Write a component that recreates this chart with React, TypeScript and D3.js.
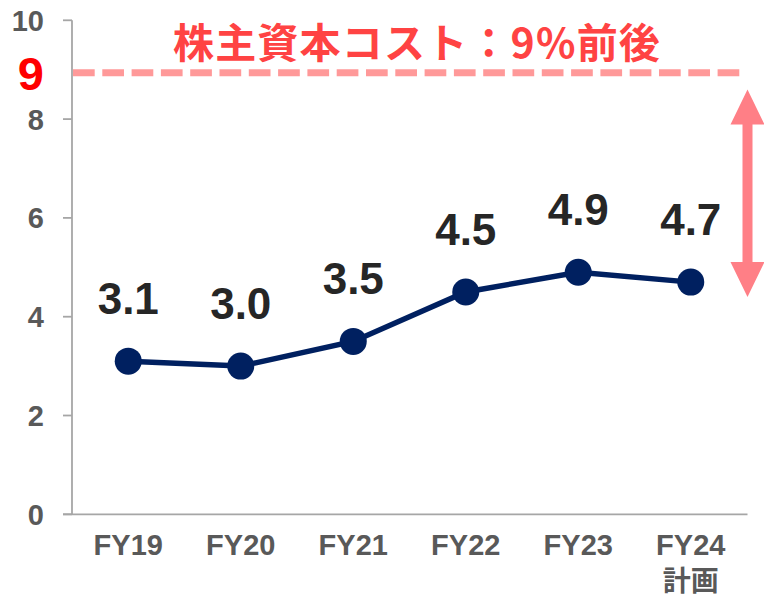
import React from "react";
import * as d3 from "d3";

const categories = ["FY19", "FY20", "FY21", "FY22", "FY23", "FY24"];
const subLabels = ["", "", "", "", "", "計画"];
const values = [3.1, 3.0, 3.5, 4.5, 4.9, 4.7];
const yTicks = [0, 2, 4, 6, 8, 10];
const costOfEquity = 9;
const costLineValue = 8.94;
const title = "株主資本コスト：9%前後";
const arrowRange = [8.6, 4.4];

const W = 764;
const H = 598;
const LATIN = "'Liberation Sans', Arial, sans-serif";
const CJK = "'Noto Sans CJK JP', 'Noto Sans', sans-serif";

export default function App() {
  const x = d3.scaleBand<string>().domain(categories).range([72, 747]);
  const y = d3.scaleLinear().domain([0, 10]).range([514.3, 20.3]);
  const cx = (c: string) => (x(c) as number) + x.bandwidth() / 2;
  const line = d3
    .line<number>()
    .x((_, i) => cx(categories[i]))
    .y((d) => y(d));

  const ax = 747.5;
  const aTop = y(arrowRange[0]);
  const aBot = y(arrowRange[1]);
  const headH = 35;
  const headW = 17;
  const shaftW = 5;
  const arrowPath = [
    `M${ax},${aTop}`,
    `L${ax + headW},${aTop + headH}`,
    `L${ax + shaftW},${aTop + headH}`,
    `L${ax + shaftW},${aBot - headH}`,
    `L${ax + headW},${aBot - headH}`,
    `L${ax},${aBot}`,
    `L${ax - headW},${aBot - headH}`,
    `L${ax - shaftW},${aBot - headH}`,
    `L${ax - shaftW},${aTop + headH}`,
    `L${ax - headW},${aTop + headH}`,
    "Z",
  ].join(" ");

  return (
    <svg
      width={W}
      height={H}
      style={{ position: "absolute", left: 0, top: 0, background: "#fff" }}
    >
      {/* axes */}
      <line x1={72} x2={72} y1={y(10)} y2={y(0)} stroke="#A6A6A6" strokeWidth={1.8} />
      <line x1={63} x2={747.5} y1={y(0)} y2={y(0)} stroke="#A6A6A6" strokeWidth={1.8} />
      {yTicks.map((t) => (
        <g key={t}>
          <line x1={63} x2={72} y1={y(t)} y2={y(t)} stroke="#A6A6A6" strokeWidth={1.8} />
          <text
            x={44}
            y={y(t)}
            dy="0.36em"
            textAnchor="end"
            fontFamily={LATIN}
            fontWeight="bold"
            fontSize={29}
            fill="#595959"
          >
            {t}
          </text>
        </g>
      ))}
      <text
        x={44}
        y={y(costLineValue)}
        dy="0.36em"
        textAnchor="end"
        fontFamily={LATIN}
        fontWeight="bold"
        fontSize={47}
        fill="#FF0000"
      >
        {costOfEquity}
      </text>

      {/* cost of equity dashed line */}
      <line
        x1={73}
        x2={741}
        y1={y(costLineValue)}
        y2={y(costLineValue)}
        stroke="#FF9999"
        strokeWidth={7}
        strokeDasharray="21.7 7.6"
      />
      <text
        x={417}
        y={58}
        textAnchor="middle"
        fontFamily={CJK}
        fontWeight="bold"
        fontSize={41}
        letterSpacing={1.2}
        fill="#FF4343"
      >
        {title}
      </text>

      {/* arrow */}
      <path d={arrowPath} fill="#FF7F86" />

      {/* x labels */}
      {categories.map((c, i) => (
        <g key={c}>
          <text
            x={cx(c)}
            y={555}
            textAnchor="middle"
            fontFamily={LATIN}
            fontWeight="bold"
            fontSize={29}
            fill="#595959"
          >
            {c}
          </text>
          {subLabels[i] && (
            <text
              x={cx(c)}
              y={591}
              textAnchor="middle"
              fontFamily={CJK}
              fontWeight="bold"
              fontSize={28}
              fill="#595959"
            >
              {subLabels[i]}
            </text>
          )}
        </g>
      ))}

      {/* line */}
      <path d={line(values) as string} fill="none" stroke="#002060" strokeWidth={5.5} />
      {values.map((v, i) => (
        <circle key={i} cx={cx(categories[i])} cy={y(v)} r={13.5} fill="#002060" />
      ))}
      {values.map((v, i) => (
        <text
          key={"l" + i}
          x={cx(categories[i])}
          y={y(v) - 47}
          textAnchor="middle"
          fontFamily={LATIN}
          fontWeight="bold"
          fontSize={44}
          fill="#262626"
        >
          {v.toFixed(1)}
        </text>
      ))}
    </svg>
  );
}
